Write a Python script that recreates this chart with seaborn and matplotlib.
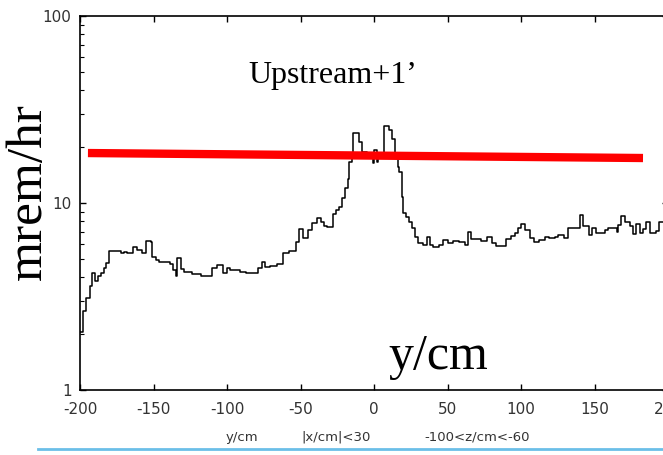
import numpy as np
import pandas as pd
import matplotlib
matplotlib.use("Agg")
import matplotlib.pyplot as plt
import seaborn as sns
from matplotlib.ticker import FixedLocator, LogLocator, NullFormatter

# ---- data (step histogram: left bin edge in cm, dose rate in mrem/hr) ----
bin_start = [-200, -198, -196, -193, -192, -190, -188, -186, -184, -182, -180,
             -172, -170, -168, -164, -161, -158, -155, -152, -151, -148, -146,
             -139, -137, -135, -134, -131, -129, -124, -118, -110, -107, -103,
             -100, -98, -91, -87, -79, -76, -74, -71, -66, -62, -58, -53, -51,
             -48, -45, -42, -39, -36, -34, -32, -28, -26, -24, -22, -20, -18,
             -17, -15, -14, -10, -8, -5, -3, -1, 0, 2, 3, 5, 7, 10, 12, 14, 16,
             17, 19, 20, 22, 24, 26, 28, 30, 33, 36, 38, 40, 44, 47, 50, 54, 58,
             62, 64, 66, 73, 77, 80, 83, 90, 93, 96, 98, 100, 103, 106, 109, 112,
             116, 119, 123, 125, 129, 132, 140, 142, 146, 148, 151, 157, 159, 165,
             166, 168, 171, 174, 176, 178, 181, 183, 185, 188, 192, 194]
dose = [2.04, 2.65, 3.10, 3.60, 4.22, 3.85, 4.05, 4.22, 4.49, 4.78, 5.53,
        5.40, 5.47, 5.40, 5.81, 5.64, 5.40, 6.26, 6.18, 5.14, 4.95, 4.83,
        4.72, 4.38, 4.07, 5.08, 4.44, 4.28, 4.15, 4.07, 4.49, 4.66, 4.22,
        4.49, 4.38, 4.28, 4.22, 4.49, 4.83, 4.55, 4.60, 4.72, 5.40, 5.53, 6.18, 7.26,
        6.50, 7.17, 7.81, 8.32, 7.91, 7.53, 7.44, 8.73, 9.17, 9.52, 10.6, 12.0, 13.5,
        16.6, 17.4, 23.7, 21.2, 18.7, 17.4, 18.5, 16.4, 19.2, 16.6, 18.0, 18.5, 25.8, 24.6, 22.0, 18.5, 15.6,
        14.6, 10.8, 8.84, 8.42, 7.91, 7.35, 6.57, 6.11, 5.96, 6.57, 5.96, 5.81, 5.96, 6.34, 6.11, 6.26, 6.18,
        5.96, 6.99, 6.42, 6.26, 6.57, 6.11, 5.88, 6.42, 6.65, 6.91, 7.35, 7.72, 7.17, 6.50, 6.18, 6.34,
        6.57, 6.50, 6.57, 6.73, 6.50, 7.35, 8.62, 7.53, 6.73, 7.35, 6.91, 7.17, 7.35, 7.00,
        7.62, 8.52, 7.91, 7.53, 6.82, 7.72, 6.91, 7.26, 7.91, 6.91, 7.08, 7.91]
x_end = 200

ref_x = [-194.6, 183.0]
ref_y = [18.5, 17.4]

x_ticks = [-200, -150, -100, -50, 0, 50, 100, 150, 200]
y_ticks = [1, 10, 100]
y_ticklabels = ["1", "10", "100"]

W, H = 663, 455
fig = plt.figure(figsize=(W / 100, H / 100), dpi=100)
ax = fig.add_axes([80 / W, 1 - 390 / H, 588 / W, 374 / H])

df = pd.DataFrame({"y_cm": bin_start + [x_end], "dose": dose + [dose[-1]]})
sns.lineplot(data=df, x="y_cm", y="dose", drawstyle="steps-post", estimator=None,
             sort=False, color="black", lw=1.1, ax=ax)
sns.lineplot(x=ref_x, y=ref_y, color="#ff0000", lw=6, ax=ax,
             solid_capstyle="butt", estimator=None, sort=False)

ax.set_yscale("log")
ax.set_xlim(-200, 200)
ax.set_ylim(1, 100)
ax.xaxis.set_major_locator(FixedLocator(x_ticks))
ax.set_xticklabels([str(t) for t in x_ticks])
ax.yaxis.set_major_locator(FixedLocator(y_ticks))
ax.set_yticklabels(y_ticklabels)
ax.yaxis.set_minor_locator(LogLocator(base=10, subs=np.arange(2, 10)))
ax.yaxis.set_minor_formatter(NullFormatter())
ax.set_xlabel("")
ax.set_ylabel("")
ax.tick_params(which="both", direction="in", top=True, right=True, color="black",
               labelcolor="#333333", labelsize=11)
ax.tick_params(which="major", length=4.5, width=1.0)
ax.tick_params(which="minor", length=3.0, width=0.8)
ax.tick_params(axis="x", pad=9)
ax.tick_params(axis="y", pad=6)
for s in ax.spines.values():
    s.set_linewidth(1.2)
    s.set_color("black")
ax.set_facecolor("white")

def px(x, y):
    return x / W, 1 - y / H

serif = ["Liberation Serif", "DejaVu Serif"]
fig.text(*px(333, 75), "Upstream+1’", family=serif, fontsize=23, ha="center", va="center")
fig.text(*px(438, 357), "y/cm", family=serif, fontsize=36, ha="center", va="center")
fig.text(*px(29, 192), "mrem/hr", family=serif, fontsize=37, rotation=90, ha="center", va="center")

fig.text(*px(242, 437), "y/cm", fontsize=9.5, color="#333333", ha="center", va="center")
fig.text(*px(336, 437), "|x/cm|<30", fontsize=9.5, color="#333333", ha="center", va="center")
fig.text(*px(477, 437), "-100<z/cm<-60", fontsize=9.5, color="#333333", ha="center", va="center")

fig.add_artist(plt.Line2D([38 / W, 1.0], [1 - 449 / H, 1 - 449 / H], transform=fig.transFigure,
                          color="#6bbfe8", lw=2.0))

fig.savefig("out.png", dpi=100)
